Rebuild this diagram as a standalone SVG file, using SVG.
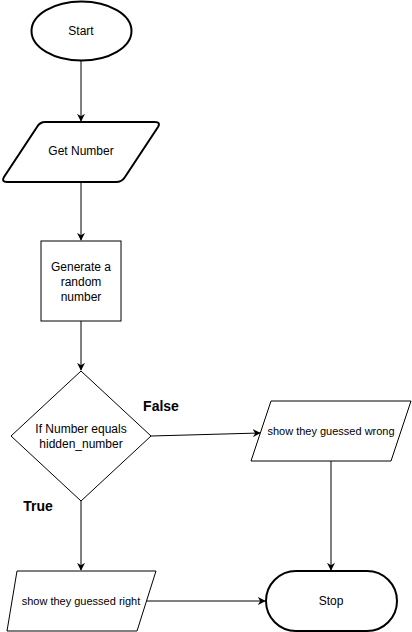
<svg xmlns="http://www.w3.org/2000/svg" width="412" height="632" viewBox="0 0 412 632">
<style>
.s{fill:#fff;stroke:#000;stroke-width:1}
.b{fill:#fff;stroke:#000;stroke-width:2}
.t{font-family:"Liberation Sans",Arial,sans-serif;font-size:12px;fill:#000;text-anchor:middle}
.sm{font-family:"Liberation Sans",Arial,sans-serif;font-size:11px;fill:#000;text-anchor:middle}
.lb{font-family:"Liberation Sans",Arial,sans-serif;font-size:14px;font-weight:bold;fill:#000;text-anchor:middle}
.c{fill:none;stroke:#000;stroke-width:1}
</style>
<defs>
<marker id="a" viewBox="0 0 10 10" refX="9" refY="5" markerWidth="8" markerHeight="8" markerUnits="userSpaceOnUse" orient="auto">
<path d="M0,0 L10,5 L0,10 L3,5 Z" fill="#000"/>
</marker>
</defs>
<rect width="412" height="632" fill="#fff"/>
<g id="connectors">
<path class="c" d="M81,61 V121" marker-end="url(#a)"/>
<path class="c" d="M81,182 V240" marker-end="url(#a)"/>
<path class="c" d="M81,321 V370" marker-end="url(#a)"/>
<path class="c" d="M151,436 L260,433" marker-end="url(#a)"/>
<path class="c" d="M331,461 V570" marker-end="url(#a)"/>
<path class="c" d="M81,501 V570" marker-end="url(#a)"/>
<path class="c" d="M146,601 H265" marker-end="url(#a)"/>
</g>
<g id="start">
<ellipse class="b" cx="81.5" cy="31" rx="50" ry="29.5"/>
<text class="t" x="81" y="35">Start</text>
</g>
<g id="get-number">
<path class="b" d="M45,122 H155 Q161,122 158,127 L125,177 Q122,182 116,182 H7 Q1,182 4,177 L37,127 Q40,122 45,122 Z"/>
<text class="t" x="81" y="155">Get Number</text>
</g>
<g id="generate">
<rect class="s" x="41" y="241" width="80" height="80"/>
<text class="t" x="81" y="271">Generate a</text>
<text class="t" x="81" y="286">random</text>
<text class="t" x="81" y="301">number</text>
</g>
<g id="decision">
<path class="s" d="M81,371 L151,436 L81,501 L11,436 Z"/>
<text class="t" x="81" y="433">If Number equals</text>
<text class="t" x="81" y="448">hidden_number</text>
</g>
<g id="label-false"><text class="lb" x="161" y="411">False</text></g>
<g id="label-true"><text class="lb" x="38" y="511">True</text></g>
<g id="wrong">
<path class="s" d="M271,401 H411 L391,461 H251 Z"/>
<text class="sm" x="331" y="435">show they guessed wrong</text>
</g>
<g id="right">
<path class="s" d="M17,571 H156 L137,631 H7 Z"/>
<text class="sm" x="81" y="605">show they guessed right</text>
</g>
<g id="stop">
<rect class="b" x="266" y="571" width="131" height="60" rx="30" ry="30"/>
<text class="t" x="331" y="605">Stop</text>
</g>
</svg>
